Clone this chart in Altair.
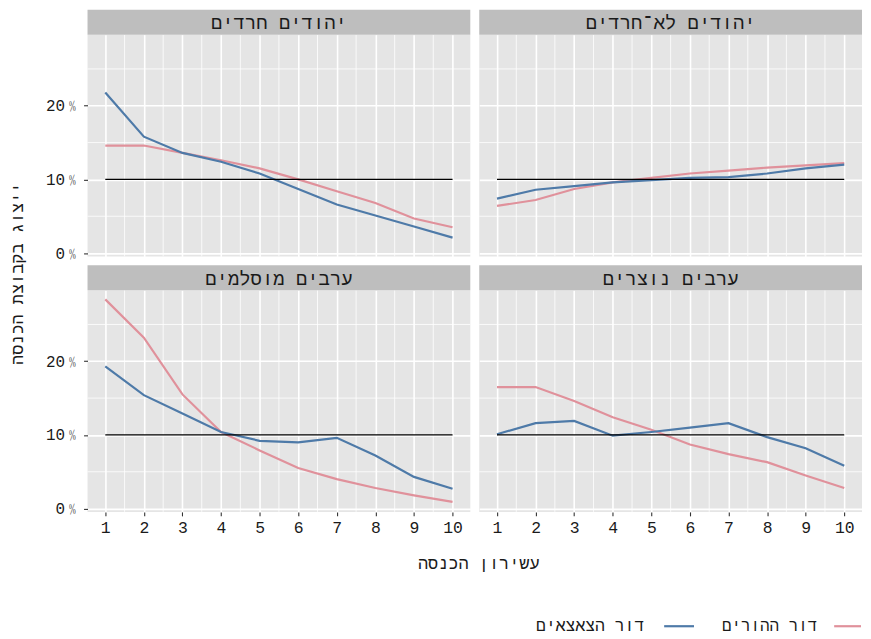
import altair as alt
import pandas as pd

FONT = "Liberation Mono"

panels = ["יהודים חרדים", "יהודים לא־חרדים", "ערבים מוסלמים", "ערבים נוצרים"]
series_names = ["דור ההורים", "דור הצאצאים"]
series_colors = ["#E0919B", "#4E7AA8"]
deciles = [1, 2, 3, 4, 5, 6, 7, 8, 9, 10]
y_ticks = [0, 0.1, 0.2]
y_minor = [0.05, 0.15, 0.25]
x_minor = [1.5, 2.5, 3.5, 4.5, 5.5, 6.5, 7.5, 8.5, 9.5]
x_title = "עשירון הכנסה"
y_title = "ייצוג בקבוצת הכנסה"

# parents' generation (pink), percent
parents_haredi = [14.6, 14.6, 13.6, 12.6, 11.5, 10.0, 8.4, 6.8, 4.7, 3.5]
parents_nonharedi = [6.4, 7.2, 8.7, 9.6, 10.2, 10.8, 11.2, 11.6, 11.9, 12.2]
parents_muslim = [28.4, 23.2, 15.5, 10.4, 7.9, 5.5, 4.0, 2.8, 1.8, 0.9]
parents_christian = [16.5, 16.5, 14.6, 12.4, 10.7, 8.7, 7.4, 6.3, 4.5, 2.8]
# descendants' generation (blue), percent
kids_haredi = [21.8, 15.8, 13.6, 12.4, 10.8, 8.7, 6.6, 5.1, 3.6, 2.1]
kids_nonharedi = [7.4, 8.6, 9.1, 9.6, 9.9, 10.2, 10.3, 10.8, 11.5, 12.0]
kids_muslim = [19.3, 15.4, 12.9, 10.4, 9.2, 9.0, 9.6, 7.2, 4.3, 2.7]
kids_christian = [10.1, 11.6, 11.9, 9.9, 10.4, 11.0, 11.6, 9.7, 8.2, 5.8]

parents = [parents_haredi, parents_nonharedi, parents_muslim, parents_christian]
kids = [kids_haredi, kids_nonharedi, kids_muslim, kids_christian]

rows = []
for i, p in enumerate(panels):
    for s, vals in zip(series_names, [parents[i], kids[i]]):
        for d, v in zip(deciles, vals):
            rows.append({"panel": p, "series": s, "decile": d, "value": v / 100})
df = pd.DataFrame(rows)
minor_x_df = pd.DataFrame({"g": x_minor})
minor_y_df = pd.DataFrame({"g": y_minor})
legend_df = pd.DataFrame({"series": series_names})

W, H = 385, 223
STRIP = 25
TXT = "#1A1A1A"

xscale = alt.Scale(domain=[0.54, 10.46], nice=False, zero=False)
yscale = alt.Scale(domain=[-0.0045, 0.2965], nice=False, zero=False)
cscale = alt.Scale(domain=series_names, range=series_colors)
PCT = "format(datum.value * 100, 'd') + '﹪'"


def panel_chart(idx, left, bottom, legend=False):
    name = panels[idx]
    if bottom and left:
        xaxis = alt.Axis(values=deciles, format="d", grid=True, labelFontSize=16.5,
                         labelPadding=4, title=x_title,
                         titleX=393, titleY=52, titleAlign="center",
                         titleBaseline="middle")
    elif bottom:
        xaxis = alt.Axis(values=deciles, format="d", grid=True, labelFontSize=16.5,
                         labelPadding=4, title=None)
    else:
        xaxis = alt.Axis(values=deciles, grid=True, labels=False, ticks=False, title=None)
    if left and bottom:
        yaxis = alt.Axis(values=y_ticks, grid=True, labelExpr=PCT,
                         title=y_title, titleX=-70, titleY=-17, titleAngle=270,
                         titleAlign="center", titleBaseline="middle")
    elif left:
        yaxis = alt.Axis(values=y_ticks, grid=True, labelExpr=PCT, title=None)
    else:
        yaxis = alt.Axis(values=y_ticks, grid=True, labels=False, ticks=False, title=None)

    base = alt.Chart(df).transform_filter(alt.datum.panel == name)
    one = base.transform_filter(
        (alt.datum.decile == 1) & (alt.datum.series == series_names[0]))

    lines = base.mark_line(strokeWidth=2.2).encode(
        x=alt.X("decile:Q", scale=xscale, axis=xaxis),
        y=alt.Y("value:Q", scale=yscale, axis=yaxis),
        color=alt.Color("series:N", scale=cscale, legend=None),
    )
    xminor = alt.Chart(minor_x_df).mark_rule(color="white", strokeWidth=0.8).encode(
        x=alt.X("g:Q", scale=xscale, axis=xaxis))
    yminor = alt.Chart(minor_y_df).mark_rule(color="white", strokeWidth=0.8).encode(
        y=alt.Y("g:Q", scale=yscale, axis=yaxis))
    ref = one.mark_rule(color="black", strokeWidth=1.3).encode(
        x=alt.datum(1), x2=alt.datum(10), y=alt.datum(0.1))
    strip_bg = one.mark_rect(color="#BEBEBE").encode(
        x=alt.value(0), x2=alt.value(W), y=alt.value(-STRIP), y2=alt.value(0))
    strip_txt = one.mark_text(font=FONT, fontSize=19, color=TXT,
                              baseline="middle", align="center").encode(
        x=alt.value(W / 2), y=alt.value(-STRIP / 2 + 1), text="panel:N")

    layers = [xminor, yminor, lines, ref, strip_bg, strip_txt]
    if legend:
        LY = 338
        lp = alt.Chart(legend_df).transform_filter(alt.datum.series == series_names[0])
        lk = alt.Chart(legend_df).transform_filter(alt.datum.series == series_names[1])
        layers += [
            lp.mark_rule(color=series_colors[0], strokeWidth=2.2).encode(
                x=alt.value(357), x2=alt.value(384), y=alt.value(LY)),
            lk.mark_rule(color=series_colors[1], strokeWidth=2.2).encode(
                x=alt.value(186), x2=alt.value(216), y=alt.value(LY)),
            lp.mark_text(font=FONT, fontSize=16, color=TXT, align="right",
                         baseline="middle").encode(
                x=alt.value(340), y=alt.value(LY), text="series:N"),
            lk.mark_text(font=FONT, fontSize=16.5, color=TXT, align="right",
                         baseline="middle").encode(
                x=alt.value(166), y=alt.value(LY), text="series:N"),
        ]
    return alt.layer(*layers).properties(width=W, height=H)


chart = alt.concat(
    panel_chart(0, True, False),
    panel_chart(1, False, False),
    panel_chart(2, True, True),
    panel_chart(3, False, True, legend=True),
    columns=2,
    spacing={"row": 9 + STRIP, "column": 9},
    bounds="flush",
).properties(
    padding={"left": 0, "top": 0, "right": 0, "bottom": 0},
    background="white",
).configure_view(
    fill="#E5E5E5", stroke=None
).configure_axis(
    domain=False,
    gridColor="white",
    gridWidth=1.6,
    tickColor="#333333",
    tickSize=4,
    tickWidth=1.1,
    labelFont=FONT,
    labelFontSize=16,
    labelColor="#1A1A1A",
    labelPadding=3,
    titleFont=FONT,
    titleFontSize=17,
    titleFontWeight="normal",
    titleColor=TXT,
)

chart.save("out.html", embed_options={"renderer": "svg", "actions": False})
